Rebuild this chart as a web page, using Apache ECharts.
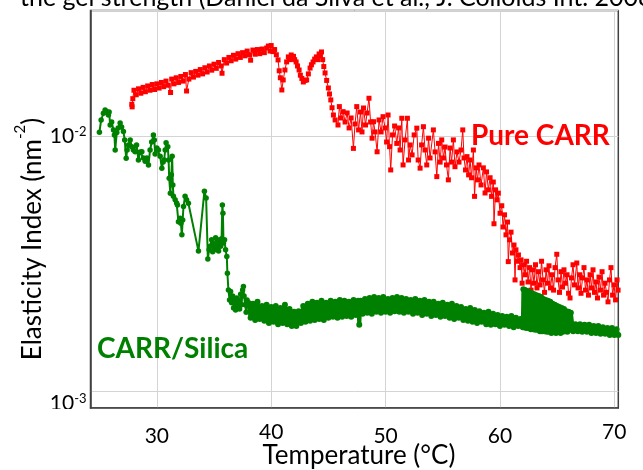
<!DOCTYPE html>
<html><head><meta charset="utf-8">
<script src="https://cdn.jsdelivr.net/npm/echarts@6/dist/echarts.min.js"></script>
<style>html,body{margin:0;padding:0;background:#fff}#c{width:643px;height:470px}</style>
</head><body><div id="c"></div>
<script>
const xTicks = [30, 40, 50, 60, 70];
const xRaised = [40, 70];
const pureCarr = [
[27.81,0.01330],[27.84,0.01300],[27.9,0.01400],[28.0,0.0151],[28.2,0.0145],[28.4,0.0153],[28.6,0.0147],[28.8,0.0155],[29.0,0.0149],[29.2,0.0157],[29.4,0.0151],[29.6,0.0159],[29.8,0.0152],[30.0,0.0160],[30.2,0.0154],[30.4,0.0162],[30.6,0.0156],[30.8,0.0164],[31.0,0.0158],[31.2,0.0148],[31.3,0.0167],[31.5,0.0160],[31.7,0.0169],[31.9,0.0162],[32.1,0.0171],[32.3,0.0164],[32.5,0.0174],[32.6,0.0150],[32.8,0.0167],[33.0,0.0177],[33.2,0.0170],[33.4,0.0179],[33.6,0.0173],[33.8,0.0182],[34.0,0.0175],[34.2,0.0185],[34.4,0.0178],[34.6,0.0188],[34.8,0.0181],[35.0,0.0191],[35.2,0.0184],[35.4,0.0194],[35.6,0.0188],[35.7,0.0176],[35.9,0.0199],[36.1,0.0193],[36.3,0.0203],[36.5,0.0197],[36.7,0.0207],[36.9,0.0200],[37.1,0.0210],[37.3,0.0203],[37.5,0.0212],[37.7,0.0206],[37.9,0.0215],[38.1,0.0208],[38.2,0.0198],[38.4,0.0217],[38.6,0.0209],[38.8,0.0218],[39.0,0.0210],[39.2,0.0219],[39.4,0.0212],[39.6,0.0221],[39.75,0.0225],[39.9,0.0215],[40.0,0.0226],[40.15,0.0214],[40.3,0.0218],
[40.45,0.02080],[40.6,0.01985],[40.7,0.01800],[40.8,0.01690],[40.93,0.01514],[41.05,0.01657],[41.2,0.01813],[41.35,0.01950],[41.5,0.02040],[41.62,0.01990],[41.75,0.02076],[41.85,0.02010],[41.95,0.02050],[42.05,0.01990],[42.18,0.01949],[42.3,0.01880],[42.44,0.01813],[42.55,0.01730],[42.68,0.01680],[42.81,0.01627],[42.95,0.01650],[43.1,0.01657],[43.25,0.01750],[43.4,0.01845],[43.52,0.01900],[43.66,0.01949],[43.8,0.02000],[43.95,0.02040],[44.05,0.01990],[44.19,0.02095],[44.3,0.02060],[44.4,0.02133],[44.5,0.01990],[44.6,0.01870],[44.71,0.01765],[44.85,0.01650],[45.0,0.01541],[45.1,0.01460],[45.21,0.01384],[45.32,0.01290],[45.44,0.01208],[45.59,0.01155],
[45.84,0.01104],[45.96,0.01303],[46.11,0.01176],[46.29,0.01245],[46.46,0.01134],[46.64,0.01230],[46.81,0.01075],[46.99,0.01176],[47.19,0.00894],[47.33,0.01114],[47.48,0.01303],[47.64,0.01056],[47.81,0.01241],[47.94,0.01037],[48.07,0.01287],[48.25,0.01104],[48.38,0.01230],[48.55,0.01405],[48.69,0.01134],[48.82,0.00980],[48.95,0.01137],[49.08,0.01037],[49.26,0.00867],[49.43,0.01155],[49.61,0.01037],[49.78,0.01190],[49.96,0.01075],[50.09,0.00947],[50.22,0.01208],[50.35,0.00908],[50.45,0.00736],[50.61,0.01009],[50.79,0.01094],[50.98,0.00935],[51.14,0.01075],[51.27,0.00881],[51.42,0.01173],[51.53,0.00770],[51.71,0.00965],[51.91,0.01173],[52.01,0.00805],[52.15,0.00922],[52.32,0.00843],[52.50,0.01009],[52.73,0.01073],[52.85,0.00805],[53.02,0.00748],[53.15,0.00922],[53.31,0.01087],[53.45,0.00881],[53.60,0.00770],[53.76,0.00980],[53.89,0.00820],[54.18,0.01056],[54.33,0.00866],[54.48,0.00693],[54.63,0.00935],[54.77,0.00790],[54.91,0.00965],[55.07,0.00820],[55.20,0.00905],[55.33,0.00770],[55.49,0.00673],[55.64,0.00897],[55.77,0.00790],[55.93,0.00965],[56.07,0.00758],[56.25,0.00866],[56.42,0.00790],[56.60,0.00881],[56.75,0.01056],[56.86,0.00820],[56.99,0.00736],[57.12,0.00830],[57.26,0.00704],[57.39,0.00805],[57.52,0.00686],[57.68,0.00881],[57.78,0.00580],[57.91,0.00750],[58.04,0.00673],[58.17,0.00770],[58.35,0.00643],[58.55,0.00750],[58.70,0.00598],[58.83,0.00723],[58.99,0.00615],[59.14,0.00686],[59.27,0.00580],[59.42,0.00660],[59.48,0.00453],[59.62,0.00615],[59.75,0.00562],[59.86,0.00597],[60.01,0.00498],[60.16,0.00533],[60.27,0.00440],[60.40,0.00491],[60.53,0.00410],[60.66,0.00460],[60.73,0.00322],[60.84,0.00392],[60.97,0.00420],[61.10,0.00348],[61.23,0.00374],[61.32,0.00273],[61.40,0.00358],[61.54,0.00323],[61.62,0.00342],[61.76,0.00305],[61.85,0.00327],[61.94,0.00265],[62.07,0.00313],[62.20,0.00286],[62.33,0.00323],[62.46,0.00268],[62.59,0.00305],
[62.72,0.00249],[62.85,0.00299],[62.98,0.00265],[63.11,0.00313],[63.24,0.00254],[63.37,0.00294],[63.51,0.00261],[63.64,0.00323],[63.77,0.00273],[63.90,0.00244],[64.03,0.00299],[64.16,0.00265],[64.29,0.00310],[64.42,0.00254],[64.56,0.00286],[64.69,0.00249],[64.82,0.00305],[64.97,0.00344],[65.08,0.00273],[65.21,0.00244],[65.34,0.00294],[65.47,0.00256],[65.60,0.00299],[65.74,0.00265],[65.87,0.00286],[66.00,0.00242],[66.13,0.00232],[66.26,0.00278],[66.39,0.00313],[66.52,0.00261],[66.72,0.00318],[66.83,0.00254],[66.96,0.00286],[67.09,0.00242],[67.22,0.00278],[67.35,0.00305],[67.48,0.00249],[67.61,0.00273],[67.74,0.00238],[67.88,0.00286],[68.01,0.00254],[68.14,0.00299],[68.27,0.00244],[68.40,0.00268],[68.53,0.00232],[68.66,0.00280],[68.79,0.00249],[68.93,0.00294],[69.06,0.00238],[69.19,0.00265],[69.32,0.00244],[69.45,0.00224],[69.58,0.00273],[69.71,0.00305],[69.85,0.00238],[69.98,0.00261],[70.11,0.00228],[70.24,0.00273],[70.33,0.00249]
];
const carrSilicaMelt = [
[24.98,0.01034],[25.13,0.01155],[25.33,0.01227],[25.48,0.01264],[25.63,0.01245],[25.77,0.01208],[25.83,0.01241],[25.92,0.01104],[26.05,0.01134],[26.21,0.01056],[26.29,0.01009],[26.36,0.00881],[26.50,0.01032],[26.62,0.01075],[26.79,0.01125],[26.92,0.01084],[27.08,0.01040],[27.19,0.00965],[27.32,0.00817],[27.40,0.00881],[27.52,0.00922],[27.67,0.00965],[27.81,0.00908],[27.95,0.00881],[28.10,0.00867],[28.23,0.00922],[28.39,0.00805],[28.54,0.00866],[28.69,0.00867],[28.83,0.00820],[28.98,0.00796],[29.13,0.00820],[29.27,0.00770],[29.41,0.00881],[29.55,0.00947],[29.70,0.01009],[29.78,0.00965],[29.85,0.00850],[30.00,0.00897],[30.14,0.00881],[30.29,0.00832],[30.44,0.00748],[30.55,0.00790],[30.64,0.00805],[30.73,0.00881],[30.81,0.00940],[30.96,0.00908],[31.03,0.00805],[31.08,0.00683],[31.18,0.00597],[31.27,0.00704],[31.34,0.00832],[31.40,0.00643],[31.45,0.00580],[31.60,0.00562],[31.73,0.00546],[31.80,0.00537],[31.89,0.00461],[32.04,0.00476],[32.10,0.00455],[32.19,0.00410],[32.26,0.00469],[32.33,0.00529],[32.47,0.00580],[32.60,0.00562],[32.76,0.00545],[33.64,0.00354],[34.16,0.00608],[34.31,0.00571],[34.46,0.00330],[34.57,0.00358],[34.66,0.00370],[34.79,0.00392],[34.88,0.00352],[34.97,0.00378],[35.05,0.00358],[35.14,0.00399],[35.23,0.00365],[35.31,0.00392],[35.40,0.00354],[35.49,0.00385],[35.58,0.00370],[35.66,0.00396],[35.73,0.00537],[35.78,0.00498],[35.83,0.00381],[35.92,0.00392],[36.01,0.00358],[36.12,0.00337],[36.17,0.00290],[36.26,0.00249],[36.36,0.00228],[36.45,0.00246],[36.54,0.00222],[36.63,0.00236],[36.71,0.00212],[36.80,0.00228],[36.89,0.00208],[36.98,0.00232],[37.06,0.00216],[37.15,0.00228],[37.24,0.00210],[37.33,0.00240],[37.41,0.00218],[37.50,0.00249],[37.57,0.00257],[37.63,0.00236],[37.72,0.00218],[37.81,0.00204],[37.89,0.00228]
];
const carrSilicaGel = [
[38.0,0.00222],[38.2,0.00194],[38.4,0.00220],[38.6,0.00190],[38.8,0.00224],[39.0,0.00192],[39.2,0.00216],[39.4,0.00189],[39.6,0.00218],[39.8,0.00185],[40.0,0.00214],[40.2,0.00187],[40.4,0.00216],[40.6,0.00183],[40.8,0.00212],[41.0,0.00185],[41.2,0.00218],[41.4,0.00183],[41.6,0.00210],[41.8,0.00180],[42.0,0.00205],[42.2,0.00180],[42.4,0.00206],[42.6,0.00185],[42.8,0.00216],[43.0,0.00187],[43.2,0.00220],[43.4,0.00189],[43.6,0.00224],[43.8,0.00190],[44.0,0.00222],[44.2,0.00192],[44.4,0.00226],[44.6,0.00190],[44.8,0.00222],[45.0,0.00194],[45.2,0.00226],[45.4,0.00196],[45.6,0.00224],[45.8,0.00194],[46.0,0.00228],[46.2,0.00196],[46.4,0.00226],[46.6,0.00197],[46.8,0.00224],[47.0,0.00196],[47.2,0.00228],[47.4,0.00199],[47.6,0.00226],[47.7,0.00182],[47.8,0.00226],[48.0,0.00201],[48.2,0.00230],[48.4,0.00203],[48.6,0.00232],[48.8,0.00201],[49.0,0.00234],[49.2,0.00205],[49.4,0.00232],[49.6,0.00203],[49.8,0.00234],[50.0,0.00205],[50.2,0.00230],[50.4,0.00203],[50.6,0.00232],[50.8,0.00206],[51.0,0.00234],[51.2,0.00205],[51.4,0.00232],[51.6,0.00203],[51.8,0.00230],[52.0,0.00205],[52.2,0.00228],[52.4,0.00201],[52.6,0.00230],[52.8,0.00203],[53.0,0.00226],[53.2,0.00199],[53.4,0.00228],[53.6,0.00201],[53.8,0.00224],[54.0,0.00197],[54.2,0.00224],[54.4,0.00199],[54.6,0.00220],[54.8,0.00196],[55.0,0.00222],[55.2,0.00197],[55.4,0.00218],[55.6,0.00194],[55.8,0.00220],[56.0,0.00192],[56.2,0.00216],[56.4,0.00194],[56.6,0.00214],[56.8,0.00190],[57.0,0.00210],[57.2,0.00189],[57.4,0.00212],[57.6,0.00187],[57.8,0.00208],[58.0,0.00185],[58.2,0.00206],[58.4,0.00187],[58.6,0.00203],[58.8,0.00183],[59.0,0.00205],[59.2,0.00182],[59.4,0.00201],[59.6,0.00183],[59.8,0.00199],[60.0,0.00180],[60.2,0.00197],[60.4,0.00182],[60.6,0.00196],[60.8,0.00180],[61.0,0.00197],[61.2,0.00178],[61.4,0.00194],[61.6,0.00180],[61.8,0.00192],[62.0,0.00178],
[62.05,0.00251],[62.1,0.00178],[62.2,0.00249],[62.3,0.00177],[62.4,0.00247],[62.5,0.00177],[62.6,0.00244],[62.7,0.00175],[62.8,0.00242],[62.9,0.00175],[63.0,0.00240],[63.1,0.00174],[63.2,0.00238],[63.3,0.00174],[63.4,0.00236],[63.5,0.00172],[63.6,0.00234],[63.7,0.00172],[63.8,0.00230],[63.9,0.00172],[64.0,0.00228],[64.1,0.00171],[64.2,0.00226],[64.3,0.00171],[64.4,0.00224],[64.5,0.00169],[64.6,0.00220],[64.7,0.00171],[64.8,0.00218],[64.9,0.00169],[65.0,0.00216],[65.1,0.00171],[65.2,0.00214],[65.3,0.00169],[65.4,0.00212],[65.5,0.00171],[65.6,0.00210],[65.7,0.00172],[65.8,0.00206],[65.9,0.00171],[66.0,0.00205],[66.1,0.00174],[66.2,0.00203],
[66.4,0.00172],[66.6,0.00183],[66.8,0.00172],[67.0,0.00183],[67.2,0.00171],[67.4,0.00182],[67.6,0.00171],[67.8,0.00182],[68.0,0.00169],[68.2,0.00180],[68.4,0.00169],[68.6,0.00180],[68.8,0.00168],[69.0,0.00178],[69.2,0.00168],[69.4,0.00177],[69.6,0.00166],[69.8,0.00177],[70.0,0.00166],[70.2,0.00175],[70.35,0.00166]
];
const FONT = 'Lato';
const GREEN = '#008000', RED = '#ff0000';
const chart = echarts.init(document.getElementById('c'));
chart.setOption({
  animation: false,
  grid: {left: 90.5, right: 24.7, top: 10.5, bottom: 62, show: true, borderColor: '#404040', borderWidth: 1.5},
  xAxis: {
    type: 'value', min: 24.2, max: 70.35,
    axisLine: {show: true, lineStyle: {color: '#404040', width: 1.5}},
    axisTick: {show: false, customValues: xTicks},
    splitLine: {show: true, lineStyle: {color: '#d4d4d4', width: 1}},
    axisLabel: {
      customValues: xTicks, margin: 14,
      formatter: v => xRaised.indexOf(v) >= 0 ? '{hi|' + v + '}' : '{lo|' + v + '}',
      rich: {
        hi: {fontSize: 21, fontFamily: FONT, color: '#000'},
        lo: {fontSize: 21, fontFamily: FONT, color: '#000', padding: [4, 0, 0, 0]}
      }
    }
  },
  yAxis: {
    type: 'log', logBase: 10, min: 8.6e-4, max: 0.0310,
    axisLine: {show: true, lineStyle: {color: '#404040', width: 1.5}},
    axisTick: {show: false},
    splitLine: {show: true, lineStyle: {color: '#d4d4d4', width: 1}},
    axisLabel: {
      margin: 4, showMinLabel: false, showMaxLabel: false,
      formatter: v => {
        const l = Math.log10(v), e = Math.round(l);
        if (Math.abs(l - e) > 1e-6) return '';
        return e === -3 ? '{b3|10}{s3|' + e + '}' : '{b|10}{s|' + e + '}';
      },
      rich: {
        b: {fontSize: 21, fontFamily: FONT, color: '#000'},
        s: {fontSize: 13, fontFamily: FONT, color: '#000', verticalAlign: 'top'},
        b3: {fontSize: 21, fontFamily: FONT, color: '#000', padding: [24, 0, 0, 0]},
        s3: {fontSize: 13, fontFamily: FONT, color: '#000', verticalAlign: 'top', padding: [24, 0, 0, 0]}
      }
    }
  },
  graphic: [
    {type: 'text', x: 20, y: 10, style: {text: 'the gel strength (Daniel da Silva et al., J. Colloids Int. 2008', font: '25px Lato', fill: '#000', align: 'left', verticalAlign: 'bottom'}},
    {type: 'rect', z: 100, shape: {x: 40, y: 409, width: 49, height: 15}, style: {fill: '#fff'}},
    {type: 'text', x: 359, y: 456, style: {text: 'Temperature (°C)', font: '26px Lato', fill: '#000', align: 'center', verticalAlign: 'middle'}},
    {type: 'text', x: 33, y: 239, rotation: Math.PI / 2, style: {
      text: '{a|Elasticity Index (nm}{s|-2}{a|)}', align: 'center', verticalAlign: 'middle',
      rich: {a: {fontSize: 26, fontFamily: FONT, fill: '#000', lineHeight: 40}, s: {fontSize: 15, fontFamily: FONT, fill: '#000', verticalAlign: 'top'}}
    }},
    {type: 'text', x: 471, y: 136, z: 10, style: {text: 'Pure CARR', font: 'bold 28px Lato', fill: RED, align: 'left', verticalAlign: 'middle'}},
    {type: 'text', x: 97, y: 349, z: 10, style: {text: 'CARR/Silica', font: 'bold 28px Lato', fill: GREEN, align: 'left', verticalAlign: 'middle'}}
  ],
  series: [
    {type: 'line', name: 'Pure CARR', data: pureCarr, symbol: 'rect', symbolSize: 5, z: 2,
     lineStyle: {color: RED, width: 1}, itemStyle: {color: RED}},
    {type: 'line', name: 'CARR/Silica', data: carrSilicaMelt, symbol: 'circle', symbolSize: 5.5, z: 3,
     lineStyle: {color: GREEN, width: 2}, itemStyle: {color: GREEN}},
    {type: 'line', name: 'CARR/Silica', data: carrSilicaGel, symbol: 'circle', symbolSize: 6, z: 3,
     lineStyle: {color: GREEN, width: 4}, itemStyle: {color: GREEN}}
  ]
});
</script></body></html>
